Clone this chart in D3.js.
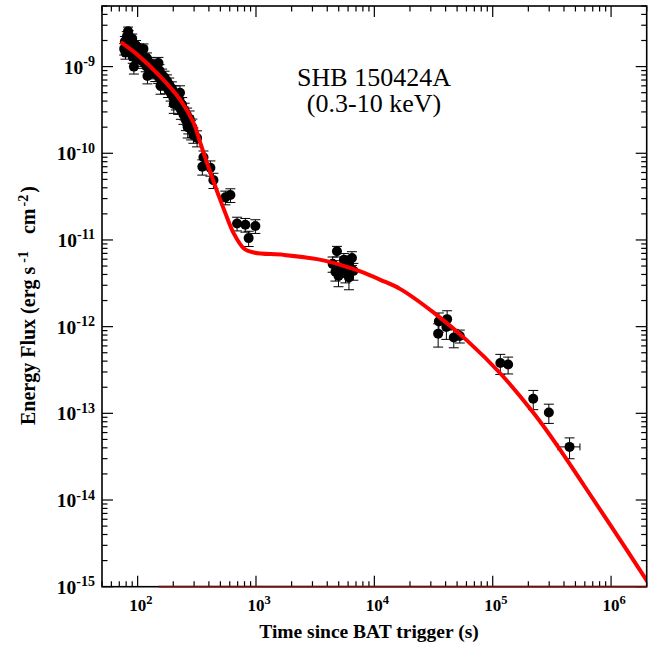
<!DOCTYPE html>
<html><head><meta charset="utf-8">
<script src="https://cdn.jsdelivr.net/npm/d3@7"></script>
<style>
body{margin:0;background:#fff}
svg{display:block}
text{font-family:"Liberation Serif","Times New Roman",Times,serif}
</style>
</head><body>
<svg id="chart" width="660" height="656"></svg>
<script>
// ---------- data ----------
const xDomain = [50, 2e6];
const yDomain = [1e-15, 5e-9];
const xTickExponents = [2, 3, 4, 5, 6];
const yTickExponents = [-15, -14, -13, -12, -11, -10, -9];

const titleLines = ["SHB 150424A", "(0.3-10 keV)"];
const xTitle = "Time since BAT trigger (s)";

// dense early (WT) light curve
const wtTime = [77,78,79,80,81,82,83,84,86,88,90,91,93,95,97,99,101,103,105,107,110,112,115,117,120,121,123,126,129,132,135,138,141,145,149,150,153,156,157,161,165,169,173,177,181,185,190,195,200,202,205,210,215,220,226,228,232,238,244,250,256,262,265,268,275,283,290,296,318];
const wtFlux = [1.6e-9,1.95e-9,1.45e-9,1.8e-9,2.2e-9,1.55e-9,2.55e-9,2.3e-9,1.9e-9,1.7e-9,2.1e-9,1.3e-9,1.0e-9,1.55e-9,1.75e-9,1.2e-9,1.45e-9,1.6e-9,1.3e-9,1.45e-9,1.15e-9,1.6e-9,1.2e-9,1.05e-9,1.25e-9,0.78e-9,0.95e-9,1.1e-9,1.0e-9,0.88e-9,1.05e-9,0.95e-9,0.82e-9,0.95e-9,0.78e-9,1.1e-9,0.9e-9,0.6e-9,0.72e-9,0.8e-9,0.66e-9,0.75e-9,0.6e-9,0.68e-9,0.55e-9,0.62e-9,0.5e-9,0.56e-9,0.44e-9,0.37e-9,0.5e-9,0.4e-9,0.45e-9,0.36e-9,0.41e-9,0.5e-9,0.32e-9,0.36e-9,0.28e-9,0.31e-9,0.24e-9,0.27e-9,0.2e-9,0.22e-9,0.25e-9,0.19e-9,0.2e-9,0.163e-9,0.15e-9];
const wtErr = [0.15,0.14,0.16,0.13,0.15,0.14,0.12,0.13,0.15,0.14,0.13,0.16,0.18,0.15,0.14,0.16,0.15,0.14,0.16,0.15,0.17,0.14,0.16,0.17,0.15,0.19,0.17,0.16,0.17,0.18,0.16,0.17,0.18,0.17,0.18,0.16,0.17,0.2,0.18,0.17,0.19,0.18,0.19,0.18,0.2,0.19,0.2,0.19,0.21,0.22,0.2,0.21,0.2,0.22,0.21,0.2,0.23,0.22,0.23,0.22,0.24,0.23,0.25,0.24,0.23,0.25,0.24,0.2,0.21];

// later photon-counting points
const pcTime = [352,360,412,437,551,608,692,813,867,988,4440,4690,4830,4980,5160,5530,5700,6100,6100,6470,6650,34600,35100,40600,41200,46900,52700,116000,135000,220000,298000,446000];
const pcFlux = [7.0e-11,9.0e-11,6.8e-11,4.9e-11,3.1e-11,3.3e-11,1.55e-11,1.5e-11,1.05e-11,1.45e-11,5.3e-12,4.3e-12,7.4e-12,3.85e-12,4.8e-12,5.9e-12,4.1e-12,5.45e-12,3.7e-12,6.2e-12,4.4e-12,8.3e-13,1.15e-12,9.9e-13,1.22e-12,7.5e-13,7.8e-13,3.8e-13,3.65e-13,1.47e-13,1.02e-13,4.1e-14];
const pcErr = [0.2,0.18,0.2,0.2,0.18,0.18,0.18,0.18,0.2,0.18,0.2,0.22,0.14,0.25,0.2,0.18,0.22,0.2,0.28,0.18,0.22,0.3,0.25,0.28,0.25,0.24,0.17,0.26,0.22,0.25,0.25,0.27];
const pcTimeLo = [345,353,404,428,540,596,680,800,853,972,4380,4630,4770,4920,5100,5460,5630,6030,6030,6400,6580,34000,34500,39900,40500,46000,51700,110000,128000,210000,285000,356000];
const pcTimeHi = [359,367,420,446,562,620,704,826,881,1004,4500,4750,4890,5040,5220,5600,5770,6170,6170,6540,6720,35200,35700,41300,41900,47800,53700,122000,142000,230000,311000,546000];

// best-fit model curve
const modelTime = [74,100,155.6,229.6,297.9,338.8,386.4,453.9,484.2,550.8,647.1,787,957,1714,3281,5164,7621,11246,16596,31769,60814,116145,222331,349945,588844,1e6,2.01e6];
const modelFlux = [1.862e-9,1.365e-9,7.67e-10,4.13e-10,2.22e-10,1.31e-10,7.69e-11,4.13e-11,3.24e-11,2.04e-11,1.2e-11,8.04e-12,7.16e-12,6.73e-12,6.01e-12,5.16e-12,4.33e-12,3.47e-12,2.71e-12,1.45e-12,6.9e-13,2.88e-13,1.0e-13,4.27e-14,1.48e-14,5.0e-15,1.17e-15];
// second model component, entirely below the plotted range (clipped onto the floor)
const floorComponentTime = [150, 2e6];

// ---------- layout ----------
const L = 102, R = 646.7, T = 6, B = 586.7;
const svg = d3.select("#chart");
const x = d3.scaleLog().domain(xDomain).range([L, R]);
const y = d3.scaleLog().domain(yDomain).range([B, T]);

svg.append("defs").append("clipPath").attr("id","plotclip")
  .append("rect").attr("x",L).attr("y",T).attr("width",R-L).attr("height",B-T);

// ---------- error bars & points ----------
const gPts = svg.append("g").attr("clip-path","url(#plotclip)");
const cap = 5;
function drawPoint(t, f, e, tlo, thi){
  const cx = x(t), cy = y(f);
  const yu = y(f*(1+e)), yl = y(f*(1-e));
  const g = gPts.append("g").attr("stroke","#000").attr("stroke-width",1).attr("fill","none");
  g.append("line").attr("x1",cx).attr("x2",cx).attr("y1",yu).attr("y2",yl);
  g.append("line").attr("x1",cx-cap).attr("x2",cx+cap).attr("y1",yu).attr("y2",yu);
  g.append("line").attr("x1",cx-cap).attr("x2",cx+cap).attr("y1",yl).attr("y2",yl);
  if (tlo !== undefined){
    const xl = x(tlo), xh = x(thi);
    g.append("line").attr("x1",xl).attr("x2",xh).attr("y1",cy).attr("y2",cy);
    g.append("line").attr("x1",xl).attr("x2",xl).attr("y1",cy-3.5).attr("y2",cy+3.5);
    g.append("line").attr("x1",xh).attr("x2",xh).attr("y1",cy-3.5).attr("y2",cy+3.5);
  }
}
wtTime.forEach((t,i)=>drawPoint(t, wtFlux[i], wtErr[i]));
pcTime.forEach((t,i)=>drawPoint(t, pcFlux[i], pcErr[i], pcTimeLo[i], pcTimeHi[i]));
const allT = wtTime.concat(pcTime), allF = wtFlux.concat(pcFlux);
gPts.selectAll("circle.pt").data(allT.map((t,i)=>[t,allF[i]])).enter().append("circle")
  .attr("class","pt").attr("cx",d=>x(d[0])).attr("cy",d=>y(d[1])).attr("r",5).attr("fill","#000");

// ---------- model curve ----------
const modelData = modelTime.map((t,i)=>[t, modelFlux[i]]);
svg.append("path").attr("clip-path","url(#plotclip)")
  .attr("d", d3.line().x(d=>x(d[0])).y(d=>y(d[1])).curve(d3.curveCatmullRom.alpha(0.5))(modelData))
  .attr("fill","none").attr("stroke","#ff0000").attr("stroke-width",4).attr("stroke-linecap","round");

// ---------- frame & ticks ----------
const gAx = svg.append("g").attr("stroke","#000");
function minorTicks(dom){
  const out = [];
  const k0 = Math.floor(Math.log10(dom[0])), k1 = Math.ceil(Math.log10(dom[1]));
  for (let k=k0;k<=k1;k++) for (let m=1;m<=9;m++){
    const v = m*Math.pow(10,k);
    if (v>=dom[0]*0.999 && v<=dom[1]*1.001) out.push({v, major: m===1});
  }
  return out;
}
minorTicks(xDomain).forEach(d=>{
  const px = x(d.v), len = d.major ? 11 : 5.5;
  gAx.append("line").attr("x1",px).attr("x2",px).attr("y1",B).attr("y2",B-len).attr("stroke-width",1.2);
  gAx.append("line").attr("x1",px).attr("x2",px).attr("y1",T).attr("y2",T+len).attr("stroke-width",1.2);
});
minorTicks(yDomain).forEach(d=>{
  const py = y(d.v), len = d.major ? 11 : 5.5;
  gAx.append("line").attr("x1",L).attr("x2",L+len).attr("y1",py).attr("y2",py).attr("stroke-width",1.2);
  gAx.append("line").attr("x1",R).attr("x2",R-len).attr("y1",py).attr("y2",py).attr("stroke-width",1.2);
});
gAx.append("rect").attr("x",L).attr("y",T).attr("width",R-L).attr("height",B-T)
  .attr("fill","none").attr("stroke-width",1.6);
// clipped component lying on the floor of the plot
svg.append("line").attr("x1",x(floorComponentTime[0])).attr("x2",x(floorComponentTime[1]))
  .attr("y1",y(yDomain[0])).attr("y2",y(yDomain[0]))
  .attr("stroke","#7a0a0a").attr("stroke-width",1.8);

// ---------- tick labels ----------
xTickExponents.forEach(e=>{
  const t = svg.append("text").attr("x", x(Math.pow(10,e)) - 8.5).attr("y", 611)
    .attr("font-size",17).attr("font-weight","bold").attr("fill","#000");
  t.append("tspan").text("10");
  t.append("tspan").attr("dy",-7).attr("font-size",12.5).text(e);
});
yTickExponents.forEach(e=>{
  const t = svg.append("text").attr("x", 95).attr("y", y(Math.pow(10,e)) + 7)
    .attr("text-anchor","end").attr("font-size",19.5).attr("font-weight","bold").attr("fill","#000");
  t.append("tspan").text("10");
  t.append("tspan").attr("dy",-7.5).attr("font-size",14).text(e);
});

// ---------- axis titles ----------
svg.append("text").attr("x",369).attr("y",638).attr("text-anchor","middle")
  .attr("font-size",19.5).attr("font-weight","bold").text(xTitle);
const yt = svg.append("text").attr("transform","translate(35,425) rotate(-90)")
  .attr("text-anchor","start").attr("font-size",20).attr("font-weight","bold");
yt.append("tspan").text("Energy Flux (erg s");
yt.append("tspan").attr("dx",4).attr("dy",-7.5).attr("font-size",14).text("-1");
yt.append("tspan").attr("dx",17).attr("dy",7.5).text("cm");
yt.append("tspan").attr("dx",2).attr("dy",-7.5).attr("font-size",14).text("-2");
yt.append("tspan").attr("dx",2).attr("dy",7.5).text(")");

// ---------- title ----------
titleLines.forEach((s,i)=>{
  svg.append("text").attr("x",374).attr("y",85.5 + i*26.5).attr("text-anchor","middle")
    .attr("font-size",26).attr("fill","#000").text(s);
});
</script>
</body></html>
